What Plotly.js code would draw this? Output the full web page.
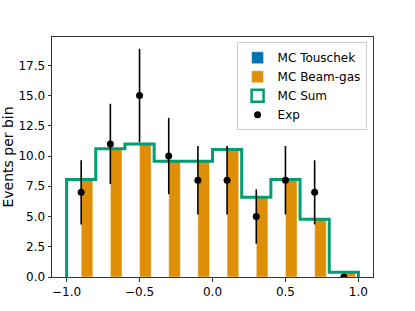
<!DOCTYPE html>
<html>
<head>
<meta charset="utf-8">
<script src="https://cdn.plot.ly/plotly-3.0.1.min.js"></script>
<style>
  html, body { margin: 0; padding: 0; background: #fff; }
  #myPlot { width: 415px; height: 311px; }
</style>
</head>
<body>
<div id="myPlot"></div>
<script>
// bin edges and centres (10 bins of 0.2 from -1 to 1)
var binEdges = [-1.0, -0.8, -0.6, -0.4, -0.2, 0.0, 0.2, 0.4, 0.6, 0.8, 1.0];
var binCenters = [-0.9, -0.7, -0.5, -0.3, -0.1, 0.1, 0.3, 0.5, 0.7, 0.9];

// MC contributions
var mcTouschek = [0, 0, 0, 0, 0, 0, 0, 0, 0, 0];
var mcBeamGas = [8.05, 10.6, 11.0, 9.56, 9.56, 10.55, 6.6, 8.05, 4.77, 0.4];
var mcSum = [8.05, 10.6, 11.0, 9.56, 9.56, 10.55, 6.6, 8.05, 4.77, 0.4];

// measured counts and their errors
var expCounts = [7, 11, 15, 10, 8, 8, 5, 8, 7, 0];
var expErrors = [2.65, 3.32, 3.87, 3.16, 2.83, 2.83, 2.24, 2.83, 2.65, 0];

var blue = '#0173B2', orange = '#DE8F05', green = '#029E73';

// closed step outline, down to zero at both ends
var stepX = [binEdges[0]].concat(binEdges);
var stepY = [0].concat(mcSum, [0]);

var touschek = {
  x: binCenters, y: mcTouschek, type: 'bar', name: 'MC Touschek',
  width: 0.08, offset: -0.08,
  marker: {color: blue, line: {color: 'rgba(255,255,255,0.5)', width: 1}}
};

var beamGas = {
  x: binCenters, y: mcBeamGas, type: 'bar', name: 'MC Beam-gas',
  width: 0.08, offset: 0,
  marker: {color: orange, line: {color: 'rgba(255,255,255,0.5)', width: 1}}
};

// legend entry for the sum (hollow box), the outline itself is drawn below
var sumLegend = {
  x: [null], y: [null], type: 'bar', name: 'MC Sum',
  marker: {color: 'rgba(0,0,0,0)', line: {color: green, width: 2.5}}
};

var sumStep = {
  x: stepX, y: stepY, type: 'scatter', mode: 'lines', name: 'MC Sum',
  line: {color: green, width: 3, shape: 'hv'},
  showlegend: false, hoverinfo: 'skip'
};

var exp = {
  x: binCenters, y: expCounts, type: 'scatter', mode: 'markers', name: 'Exp',
  marker: {color: 'black', size: 7},
  error_y: {type: 'data', array: expErrors, visible: true, color: 'black', thickness: 1.6, width: 0}
};

var data = [touschek, beamGas, sumLegend, sumStep, exp];

var layout = {
  width: 415, height: 311,
  margin: {l: 52, r: 42, t: 37, b: 34},
  paper_bgcolor: 'white', plot_bgcolor: 'white',
  font: {family: 'DejaVu Sans', size: 12, color: 'black'},
  barmode: 'overlay',
  showlegend: true,
  xaxis: {
    range: [-1.1, 1.1], dtick: 0.5, tick0: 0, tickformat: '.1f',
    showgrid: false, zeroline: false,
    showline: true, mirror: true, linecolor: '#333', linewidth: 1,
    ticks: 'outside', ticklen: 3.5, tickcolor: '#333', tickwidth: 1
  },
  yaxis: {
    title: {text: 'Events per bin', standoff: 4},
    range: [0, 19.84], dtick: 2.5, tick0: 0, tickformat: '.1f',
    showgrid: false, zeroline: false,
    showline: true, mirror: true, linecolor: '#333', linewidth: 1,
    ticks: 'outside', ticklen: 3.5, tickcolor: '#333', tickwidth: 1
  },
  legend: {
    x: 0.98, y: 0.978, xanchor: 'right', yanchor: 'top',
    traceorder: 'normal',
    bgcolor: 'rgba(255,255,255,0.8)', bordercolor: '#cccccc', borderwidth: 1,
    font: {family: 'DejaVu Sans', size: 12}
  }
};

Plotly.newPlot('myPlot', data, layout, {displayModeBar: false});
</script>
</body>
</html>
